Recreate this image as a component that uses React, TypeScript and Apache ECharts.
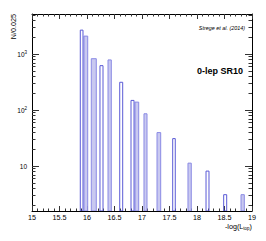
import React, { useEffect, useRef } from "react";
import * as echarts from "echarts";

// Bins drawn as outline-only bars: [start, end, count]
const hollowStart = [15.878, 16.236, 16.595, 16.8, 17.558, 18.164, 18.485];
const hollowEnd = [15.927, 16.291, 16.649, 16.855, 17.605, 18.218, 18.54];
const hollowCount = [2680, 622, 314, 149, 31, 8.15, 3.09];

// Bins drawn as filled bars: [start, end, count]
const filledStart = [15.945, 16.078, 16.382, 16.873, 17.036, 17.273, 17.836, 18.8];
const filledEnd = [16.013, 16.169, 16.442, 16.94, 17.091, 17.34, 17.896, 18.86];
const filledCount = [2096, 828, 787, 139, 86, 39.7, 11.3, 3.09];

const yMajor = [10, 100, 1000];
const yMinor = [2, 3, 4, 5, 6, 7, 8, 9, 20, 30, 40, 50, 60, 70, 80, 90, 200, 300, 400, 500, 600, 700, 800, 900, 2000, 3000, 4000, 5000];

const X_MIN = 15;
const X_MAX = 19;
const Y_MIN = 1.58;
const Y_MAX = 5200;

const FONT = "Liberation Sans, Helvetica, Arial, sans-serif";

function makeData(s: number[], e: number[], c: number[]) {
  return s.map((v, i) => [v, e[i], c[i]]);
}

export default function App() {
  const ref = useRef<HTMLDivElement>(null);
  useEffect(() => {
    if (!ref.current) return;
    const chart = echarts.init(ref.current, null, { renderer: "svg" });

    const renderBar = (style: any) => (params: any, api: any) => {
      const p0 = api.coord([api.value(0), api.value(2)]);
      const p1 = api.coord([api.value(1), Y_MIN]);
      return {
        type: "rect",
        shape: { x: p0[0], y: p0[1], width: p1[0] - p0[0], height: p1[1] - p0[1] },
        style,
      };
    };

    const xCommon = {
      type: "value",
      min: X_MIN,
      max: X_MAX,
      interval: 0.5,
      splitLine: { show: false },
      axisLine: { show: true, onZero: false, lineStyle: { color: "#000", width: 1 } },
      axisTick: { show: true, inside: true, length: 5, lineStyle: { color: "#333" } },
      minorTick: { show: true, splitNumber: 5, length: 2.5, lineStyle: { color: "#333" } },
    };

    const yBase = {
      type: "log",
      logBase: 10,
      min: Y_MIN,
      max: Y_MAX,
      splitLine: { show: false },
      minorSplitLine: { show: false },
    };

    const labelFmt = (v: number) => {
      const p = Math.round(Math.log10(v));
      if (p === 1) return "10";
      return "10{sup|" + p + "}";
    };

    chart.setOption({
      animation: false,
      backgroundColor: "#fff",
      grid: { left: 32, right: 14, top: 14, bottom: 30 },
      xAxis: [
        {
          ...xCommon,
          position: "bottom",
          axisLabel: {
            show: true,
            fontSize: 7.2,
            fontFamily: FONT,
            color: "#000",
            margin: 3,
            showMinLabel: true,
            showMaxLabel: true,
          },
        },
        {
          ...xCommon,
          position: "top",
          axisLabel: { show: false },
        },
      ],
      yAxis: [
        {
          ...yBase,
          position: "left",
          axisLine: { show: true, onZero: false, lineStyle: { color: "#000", width: 1 } },
          axisTick: { show: true, inside: true, length: 7, customValues: yMajor, lineStyle: { color: "#333" } },
          axisLabel: {
            show: true,
            customValues: yMajor,
            formatter: labelFmt,
            fontSize: 6.5,
            fontFamily: FONT,
            color: "#000",
            margin: 5,
            rich: {
              sup: { fontSize: 4.5, fontFamily: FONT, color: "#000", verticalAlign: "top", padding: [0, 0, 4, 0] },
            },
          },
        },
        {
          ...yBase,
          position: "left",
          axisLine: { show: false },
          axisTick: { show: true, inside: true, length: 3.5, customValues: yMinor, lineStyle: { color: "#333" } },
          axisLabel: { show: false },
        },
        {
          ...yBase,
          position: "right",
          axisLine: { show: true, onZero: false, lineStyle: { color: "#000", width: 1 } },
          axisTick: { show: true, inside: true, length: 7, customValues: yMajor, lineStyle: { color: "#333" } },
          axisLabel: { show: false },
        },
        {
          ...yBase,
          position: "right",
          axisLine: { show: false },
          axisTick: { show: true, inside: true, length: 3.5, customValues: yMinor, lineStyle: { color: "#333" } },
          axisLabel: { show: false },
        },
      ],
      series: [
        {
          type: "custom",
          name: "filled",
          xAxisIndex: 0,
          yAxisIndex: 0,
          clip: true,
          encode: { x: [0, 1], y: 2 },
          data: makeData(filledStart, filledEnd, filledCount),
          renderItem: renderBar({ fill: "#c9c9f0", stroke: "#8a8ae4", lineWidth: 1 }),
        },
        {
          type: "custom",
          name: "hollow",
          xAxisIndex: 0,
          yAxisIndex: 0,
          clip: true,
          encode: { x: [0, 1], y: 2 },
          data: makeData(hollowStart, hollowEnd, hollowCount),
          renderItem: renderBar({ fill: "none", stroke: "#5a5ad6", lineWidth: 1 }),
        },
      ],
      graphic: [
        {
          type: "text",
          x: 13,
          y: 14,
          rotation: Math.PI / 2,
          style: {
            text: "N/0.025",
            fontSize: 7.2,
            fontFamily: FONT,
            fill: "#000",
            align: "right",
            verticalAlign: "middle",
          },
        },
        {
          type: "text",
          right: 21,
          top: 25,
          style: {
            text: "Strege et al. (2014)",
            fontSize: 5.4,
            fontStyle: "italic",
            fontFamily: FONT,
            fill: "#000",
          },
        },
        {
          type: "text",
          right: 23,
          top: 66,
          style: {
            text: "0-lep SR10",
            fontSize: 9,
            fontWeight: "bold",
            fontFamily: FONT,
            fill: "#000",
          },
        },
        {
          type: "text",
          right: 14,
          top: 223,
          style: {
            text: "-log(L{sub|top})",
            fontSize: 7.2,
            fontFamily: FONT,
            fill: "#000",
            rich: {
              sub: { fontSize: 4.5, fontFamily: FONT, fill: "#000", verticalAlign: "bottom", padding: [4, 0, 0, 0] },
            },
          },
        },
      ],
    });
    return () => chart.dispose();
  }, []);
  return (
    <div
      ref={ref}
      style={{ position: "fixed", left: 0, top: 0, width: 266, height: 241 }}
    />
  );
}
